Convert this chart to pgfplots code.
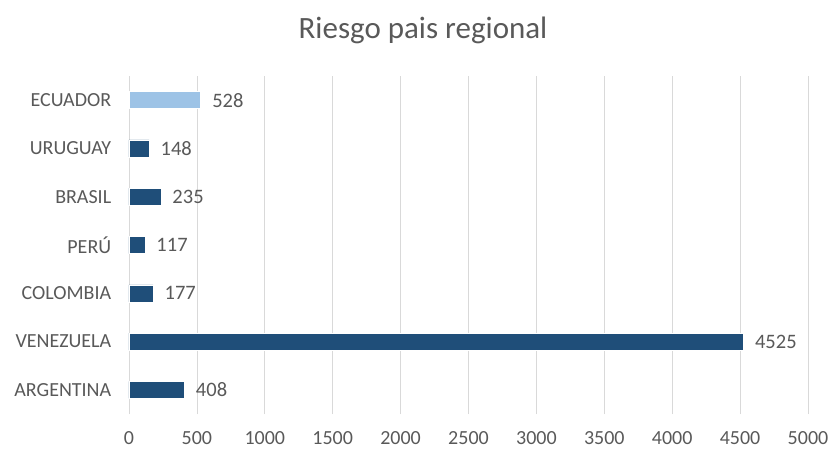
\documentclass[border=0pt]{standalone}
\usepackage{pgfplots}
\pgfplotsset{compat=1.18}
\usepackage{fontspec}
\setmainfont{Carlito}
\definecolor{darkbar}{HTML}{1F4E79}
\definecolor{lightbar}{HTML}{9DC3E6}
\definecolor{txt}{HTML}{595959}
\definecolor{gridc}{HTML}{D9D9D9}
\begin{document}
\begin{tikzpicture}[x=1pt,y=1pt]
\path[use as bounding box] (0,0) rectangle (831,448);
\node[text=txt, font=\fontsize{31}{36}\selectfont, anchor=base] at (423,409) {Riesgo pais regional};
\begin{axis}[
  at={(129pt,34pt)}, anchor=south west,
  scale only axis, width=679pt, height=338pt,
  xbar, bar width=17pt,
  xmin=0, xmax=5000,
  ymin=-0.5, ymax=6.5,
  xtick={0,500,...,5000},
  ytick={0,1,2,3,4,5,6},
  yticklabels={ARGENTINA,VENEZUELA,COLOMBIA,PER\'U,BRASIL,URUGUAY,ECUADOR},
  xmajorgrids, grid style={gridc, line width=0.75pt},
  axis line style={draw=none},
  tick style={draw=none},
  /pgf/number format/assume math mode=true,
  /pgf/number format/1000 sep={},
  ticklabel style={font=\fontsize{20}{24}\selectfont, text=txt},
  xticklabel style={yshift=-14pt},
  yticklabel style={xshift=-10pt},
  nodes near coords,
  nodes near coords style={anchor=west, xshift=8pt, font=\fontsize{20.5}{24}\selectfont, text=txt},
  point meta=explicit symbolic,
]
\addplot[fill=darkbar, draw=white, line width=0.5pt, bar shift=0pt] coordinates {
 (408,0) [408]
 (4525,1) [4525]
 (177,2) [177]
 (117,3) [117]
 (235,4) [235]
 (148,5) [148]
};
\addplot[fill=lightbar, draw=white, line width=0.5pt, bar shift=0pt] coordinates {
 (528,6) [528]
};
\end{axis}
\end{tikzpicture}
\end{document}
